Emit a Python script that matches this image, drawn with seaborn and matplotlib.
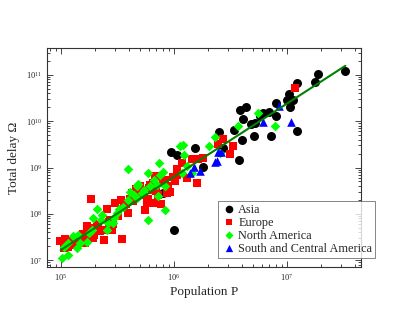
import numpy as np
import pandas as pd
import matplotlib
matplotlib.use("Agg")
import matplotlib.pyplot as plt
import seaborn as sns

# values (population P, total delay Omega)
asia_p = [3.28e7, 1.9e7, 1.24e7, 1.78e7, 1.04e7, 1.01e7, 1.13e7, 1.06e7, 8.05e6, 8.05e6,
          6.22e6, 6.9e6, 5.8e6, 4.37e6, 3.86e6, 4.08e6, 4.8e6, 5.24e6, 4.0e6, 3.42e6,
          5.18e6, 7.27e6, 1.24e7, 2.53e6, 2.72e6, 3.79e6, 1.83e6, 1.55e6, 9.4e5, 1.06e6,
          8.0e5, 1.0e6]
asia_omega = [1.2e11, 1.05e11, 6.7e10, 6.9e10, 3.9e10, 2.9e10, 2.8e10, 2.0e10, 2.5e10, 1.27e10,
              1.5e10, 1.55e10, 1.27e10, 2.03e10, 1.72e10, 1.11e10, 8.8e9, 9.1e9, 3.97e9, 6.5e9,
              4.7e9, 4.7e9, 6.3e9, 5.8e9, 2.6e9, 1.42e9, 1.05e9, 2.6e9, 2.18e9, 1.88e9,
              2.78e8, 4.6e7]

europe_p = [1.84e5, 9.9e4, 1.09e5, 1.21e5, 1.34e5, 1.48e5, 1.06e5, 1.17e5, 1.29e5, 1.64e5,
            1.76e5, 1.97e5, 1.84e5, 1.70e5, 2.08e5, 2.23e5, 2.42e5, 2.39e5, 2.59e5, 2.73e5,
            2.92e5, 2.83e5, 3.47e5, 3.03e5, 3.40e5, 3.63e5, 3.97e5, 4.11e5, 4.25e5, 4.71e5,
            4.97e5, 5.04e5, 5.39e5, 5.58e5, 5.77e5, 5.97e5, 6.18e5, 6.38e5, 6.61e5, 6.84e5,
            6.84e5, 7.31e5, 7.67e5, 8.11e5, 8.38e5, 8.97e5, 9.29e5, 8.67e5, 9.80e5, 1.03e6,
            1.06e6, 1.08e6, 1.18e6, 1.30e6, 1.44e6, 1.60e6, 1.65e6, 1.81e6, 2.49e6, 2.72e6,
            3.15e6, 3.38e6, 1.19e7, 1.38e5, 1.58e5, 2.15e5, 3.2e5, 3.75e5, 4.4e5, 5.3e5,
            1.25e5, 1.95e5, 2.7e5, 4.6e5, 6.0e5, 7.0e5]
europe_omega = [2.06e8, 2.6e7, 2.9e7, 2.8e7, 2.9e7, 2.7e7, 1.8e7, 1.95e7, 2.1e7, 2.4e7,
                3.05e7, 3.5e7, 4.9e7, 5.4e7, 6.0e7, 4.3e7, 2.8e7, 4.5e7, 1.25e8, 7.3e7,
                6.2e7, 4.6e7, 2.9e7, 1.75e8, 2.0e8, 1.43e8, 1.03e8, 2.06e8, 2.8e8, 2.4e8,
                3.0e8, 3.9e8, 3.2e8, 1.21e8, 1.69e8, 2.06e8, 4.2e8, 3.3e8, 4.7e8, 6.6e8,
                1.75e8, 2.6e8, 1.63e8, 4.7e8, 5.4e8, 3.9e8, 3.0e8, 2.8e8, 6.4e8, 5.0e8,
                6.9e8, 9.2e8, 1.28e9, 5.9e8, 1.51e9, 4.7e8, 1.51e9, 1.59e9, 3.3e9, 4.1e9,
                1.98e9, 2.85e9, 5.2e10, 2.3e7, 3.6e7, 5.0e7, 9.0e7, 1.6e8, 1.9e8, 2.5e8,
                2.2e7, 3.0e7, 6.8e7, 3.4e8, 3.6e8, 3.1e8]

namerica_p = [1.02e5, 1.17e5, 1.06e5, 1.28e5, 1.43e5, 1.17e5, 1.39e5, 1.72e5, 1.79e5, 1.88e5,
              2.08e5, 2.31e5, 2.26e5, 2.55e5, 2.64e5, 2.97e5, 3.13e5, 3.59e5, 3.97e5, 4.11e5,
              3.97e5, 4.49e5, 4.71e5, 4.87e5, 5.21e5, 5.97e5, 6.18e5, 5.97e5, 6.70e5, 7.08e5,
              7.31e5, 7.57e5, 7.47e5, 8.11e5, 8.38e5, 8.38e5, 1.14e6, 1.20e6, 1.23e6, 1.30e6,
              1.18e6, 1.46e6, 2.07e6, 2.32e6, 2.57e6, 3.74e6, 5.61e6, 7.89e6, 1.94e5, 1.48e5,
              4.71e5, 3.3e5, 5.5e5, 2.9e5]
namerica_omega = [1.14e7, 1.28e7, 1.95e7, 3.3e7, 3.5e7, 2.3e7, 1.8e7, 2.5e7, 3.8e7, 4.5e7,
                  1.25e8, 9.4e7, 7.3e7, 4.5e7, 6.4e7, 8.0e7, 1.06e8, 1.43e8, 2.0e8, 3.0e8,
                  9.2e8, 2.6e8, 2.2e8, 4.4e8, 2.8e8, 7.5e8, 3.9e8, 7.3e7, 5.4e8, 4.2e8,
                  2.4e8, 6.9e8, 1.24e9, 8.2e8, 1.21e8, 3.9e8, 2.85e9, 3.0e9, 1.88e9, 1.09e9,
                  7.5e8, 7.5e8, 2.85e9, 4.5e9, 2.04e9, 8.0e9, 1.5e10, 7.7e9, 8.0e7, 2.4e7,
                  3.9e8, 1.3e8, 3.3e8, 6.5e7]

samerica_p = [1.40e6, 1.52e6, 1.71e6, 2.32e6, 2.40e6, 2.49e6, 2.62e6, 6.22e6, 8.61e6, 1.08e7]
samerica_omega = [7.5e8, 1.05e9, 8.5e8, 1.31e9, 1.39e9, 2.15e9, 2.2e9, 9.6e9, 2.1e10, 9.7e9]

# power-law fit drawn across the data range
fit_p = [1.0e5, 3.3e7]
fit_omega = [1.65e7, 1.57e11]

regions = ["Asia", "Europe", "North America", "South and Central America"]
frames = []
for name, p, om in zip(regions,
                       [asia_p, europe_p, namerica_p, samerica_p],
                       [asia_omega, europe_omega, namerica_omega, samerica_omega]):
    frames.append(pd.DataFrame({"P": p, "Omega": om, "region": name}))
df = pd.concat(frames, ignore_index=True)

sns.set_style("ticks")
plt.rcParams["font.family"] = ["Liberation Serif", "DejaVu Serif"]
plt.rcParams["mathtext.fontset"] = "stix"

fig = plt.figure(figsize=(4.07, 3.15), dpi=100)
ax = fig.add_axes([0.1155, 0.152, 0.7715, 0.6956])
ax.set_xscale("log")
ax.set_yscale("log")

palette = {"Asia": "#000000", "Europe": "#ff0000",
           "North America": "#00ff00", "South and Central America": "#0000ff"}
markers = {"Asia": "o", "Europe": "s",
           "North America": "D", "South and Central America": "^"}
sizes = {"Asia": 42, "Europe": 34, "North America": 24, "South and Central America": 38}

for name in regions:
    sub = df[df.region == name]
    sns.scatterplot(data=sub, x="P", y="Omega", color=palette[name], marker=markers[name],
                    s=sizes[name], linewidth=0, ax=ax, label=name)

ax.plot(fit_p, fit_omega, color="#008000", lw=1.5, zorder=5)

ax.set_xlim(7.57e4, 4.54e7)
ax.set_ylim(7.1e6, 3.8e11)
ax.set_xlabel("Population P", fontsize=9.5, labelpad=2)
ax.set_ylabel("Total delay Ω", fontsize=9.5, labelpad=4)
ax.tick_params(which="both", direction="in", top=True, right=True, labelsize=6, width=0.6)
ax.tick_params(which="major", length=4)
ax.tick_params(which="minor", length=2)
for sp in ax.spines.values():
    sp.set_linewidth(0.8)
    sp.set_color("#333333")

leg = ax.legend(loc="lower left", bbox_to_anchor=(0.536, 0.182), bbox_transform=fig.transFigure,
                fontsize=8.8, frameon=True, fancybox=False, edgecolor="#666666",
                borderpad=0.25, labelspacing=0.08, handletextpad=0.2, handlelength=1.2,
                borderaxespad=0, markerscale=0.85)
leg.get_frame().set_linewidth(0.7)

fig.savefig("out.png", dpi=100)
